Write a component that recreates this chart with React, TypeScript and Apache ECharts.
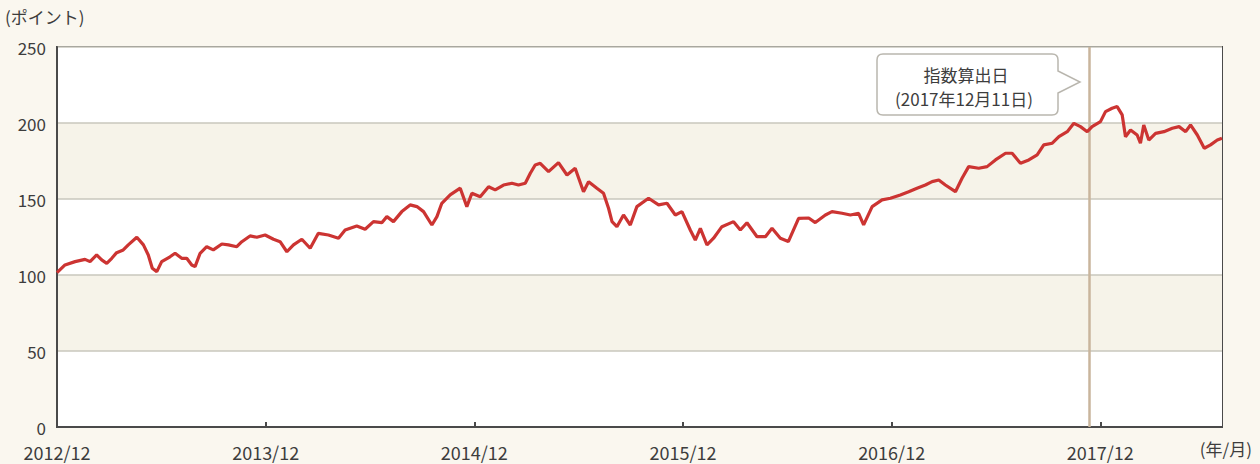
import React, { useEffect, useRef } from "react";
import * as echarts from "echarts";

// x: months elapsed since the 2012/12 tick (fractional), y: index points
const months = [
  0.0, 0.46, 1.04, 1.61, 1.9, 2.28, 2.57, 2.86, 3.15, 3.43, 3.81, 4.1, 4.59, 4.97, 5.25, 5.48, 5.74, 6.02, 6.5, 6.79,
  7.17, 7.46, 7.75, 7.94, 8.23, 8.61, 8.99, 9.48, 9.86, 10.34, 10.63, 11.1, 11.49, 11.97, 12.45, 12.83, 13.22, 13.6,
  14.08, 14.56, 15.03, 15.61, 16.19, 16.57, 17.24, 17.72, 18.2, 18.68, 18.97, 19.35, 19.83, 20.31, 20.7, 21.08, 21.56,
  21.85, 22.13, 22.61, 23.19, 23.57, 23.86, 24.34, 24.82, 25.2, 25.68, 26.16, 26.54, 26.93, 27.22, 27.5, 27.79, 28.27,
  28.84, 29.33, 29.8, 30.28, 30.57, 31.05, 31.43, 31.72, 31.92, 32.2, 32.58, 32.97, 33.35, 34.02, 34.6, 35.08, 35.56,
  35.94, 36.42, 36.71, 37.0, 37.38, 37.76, 38.24, 38.91, 39.3, 39.68, 40.26, 40.74, 41.12, 41.6, 42.06, 42.65, 43.23,
  43.61, 44.19, 44.57, 45.15, 45.63, 46.1, 46.39, 46.88, 47.45, 47.93, 48.5, 48.98, 49.46, 49.94, 50.33, 50.71, 51.09,
  51.67, 52.05, 52.43, 53.01, 53.49, 53.97, 54.55, 54.93, 55.41, 55.89, 56.37, 56.75, 57.24, 57.62, 58.1, 58.48, 58.86,
  59.25, 59.53, 60.01, 60.3, 60.68, 60.97, 61.26, 61.45, 61.74, 62.12, 62.31, 62.5, 62.79, 63.18, 63.66, 64.14, 64.53,
  64.91, 65.19, 65.58, 65.98, 66.34, 66.73, 67.0,
];
const indexValues = [
  101.5, 106.6, 108.8, 110.3, 108.8, 113.2, 109.9, 107.7, 111.0, 114.7, 116.5, 119.8, 124.8, 119.8, 113.2, 104.4, 102.2,
  108.8, 112.0, 114.3, 111.0, 111.0, 106.6, 105.5, 114.3, 118.6, 116.5, 120.4, 119.8, 118.6, 121.9, 125.7, 124.8, 126.3,
  123.5, 121.9, 115.3, 119.8, 123.5, 117.6, 127.4, 126.3, 124.2, 129.6, 132.3, 130.1, 135.1, 134.4, 138.4, 135.1, 141.7,
  146.1, 145.0, 141.7, 132.9, 138.4, 147.2, 152.7, 157.1, 145.0, 153.8, 151.5, 158.1, 156.0, 159.2, 160.4, 159.2, 160.4,
  166.9, 172.4, 173.5, 168.0, 173.9, 165.8, 170.2, 154.8, 161.4, 157.1, 153.8, 143.9, 135.1, 131.8, 139.5, 132.9, 145.0,
  150.5, 146.1, 147.2, 139.5, 141.7, 129.6, 123.0, 130.7, 119.8, 124.2, 131.8, 135.1, 129.6, 134.4, 125.2, 125.2, 130.7,
  124.2, 122.0, 137.3, 137.5, 134.5, 139.5, 141.7, 140.6, 139.5, 140.6, 133.0, 145.0, 149.4, 150.5, 152.7, 154.8, 157.1,
  159.2, 161.4, 162.5, 159.2, 154.8, 163.6, 171.3, 170.2, 171.3, 175.7, 180.1, 180.1, 173.5, 175.7, 179.0, 185.6, 186.7,
  191.0, 194.3, 199.8, 197.6, 194.3, 197.6, 200.9, 207.5, 209.7, 210.8, 205.3, 191.0, 195.4, 192.1, 186.7, 198.7, 188.8,
  193.2, 194.3, 196.5, 197.6, 194.3, 198.7, 192.1, 183.4, 185.6, 188.8, 190.0,
];
const xTickLabels = ["2012/12", "2013/12", "2014/12", "2015/12", "2016/12", "2017/12"];
const calcDateMonth = 59.35; // 2017/12/11
const calloutLines = ["指数算出日", "(2017年12月11日)"];
const yAxisName = "(ポイント)";
const xAxisName = "(年/月)";

const FONT = "'Noto Sans CJK JP', 'Noto Sans', sans-serif";
const TEXT = "#3d3d3d";

let registered = false;
function registerCallout() {
  if (registered) return;
  const d =
    "M6,0 H175 Q181,0 181,6 V17 L203,28 L181,39 V55 Q181,61 175,61 H6 Q0,61 0,55 V6 Q0,0 6,0 Z";
  echarts.graphic.registerShape("callout", echarts.graphic.extendPath(d, {}));
  registered = true;
}

export default function App() {
  const ref = useRef<HTMLDivElement>(null);
  useEffect(() => {
    if (!ref.current) return;
    registerCallout();
    const chart = echarts.init(ref.current, undefined, { renderer: "svg" });
    const data = months.map((m, i) => [m, indexValues[i]]);
    chart.setOption({
      animation: false,
      backgroundColor: "#faf7ef",
      grid: {
        left: 57,
        right: 38,
        top: 47,
        bottom: 37,
        show: true,
        backgroundColor: "#ffffff",
        borderColor: "#4a4a4a",
        borderWidth: 2,
      },
      xAxis: {
        type: "value",
        min: 0,
        max: 67,
        interval: 12,
        axisLine: { show: true, lineStyle: { color: "#4a4a4a", width: 2 } },
        axisTick: { show: true, inside: true, length: 5, lineStyle: { color: "#4a4a4a", width: 2 } },
        splitLine: { show: false },
        axisLabel: {
          color: TEXT,
          fontFamily: FONT,
          fontSize: 18,
          margin: 16,
          showMaxLabel: false,
          formatter: (v: number) => (v % 12 === 0 ? xTickLabels[v / 12] ?? "" : ""),
        },
      },
      yAxis: {
        type: "value",
        min: 0,
        max: 250,
        interval: 50,
        axisLine: { show: true, lineStyle: { color: "#4a4a4a", width: 2 } },
        axisTick: { show: false },
        axisLabel: {
          color: TEXT,
          fontFamily: FONT,
          fontSize: 17,
          margin: 11,
          formatter: (v: number) => String(v),
        },
        splitLine: { show: true, lineStyle: { color: "#c9c7bd", width: 1.5 } },
        splitArea: { show: true, areaStyle: { color: ["#ffffff", "#f6f3e9"] } },
      },
      series: [
        {
          type: "line",
          data,
          showSymbol: false,
          symbol: "none",
          lineStyle: { color: "#cc3432", width: 3.2 },
          z: 3,
          markLine: {
            silent: true,
            symbol: ["none", "none"],
            label: { show: false },
            lineStyle: { color: "#c9b59c", width: 2.5, type: "solid" },
            data: [{ xAxis: calcDateMonth }],
            z: 1,
          },
        },
      ],
      graphic: [
        {
          type: "text",
          left: 5,
          top: 8,
          style: { text: yAxisName, fill: TEXT, font: `17px ${FONT}` },
        },
        {
          type: "text",
          right: 8,
          top: 440,
          style: { text: xAxisName, fill: TEXT, font: `17px ${FONT}` },
        },
        {
          type: "callout",
          x: 877,
          y: 54,
          z: 10,
          style: { fill: "#ffffff", stroke: "#b9b6ae", lineWidth: 1.5 },
        },
        {
          type: "text",
          x: 966,
          y: 74,
          z: 11,
          style: {
            text: calloutLines[0],
            fill: TEXT,
            font: `17px ${FONT}`,
            align: "center",
            verticalAlign: "middle",
          },
        },
        {
          type: "text",
          x: 964,
          y: 98,
          z: 11,
          style: {
            text: calloutLines[1],
            fill: TEXT,
            font: `17px ${FONT}`,
            align: "center",
            verticalAlign: "middle",
          },
        },
      ],
    });
    return () => chart.dispose();
  }, []);
  return (
    <div
      ref={ref}
      style={{ position: "fixed", left: 0, top: 0, width: 1260, height: 464 }}
    />
  );
}
